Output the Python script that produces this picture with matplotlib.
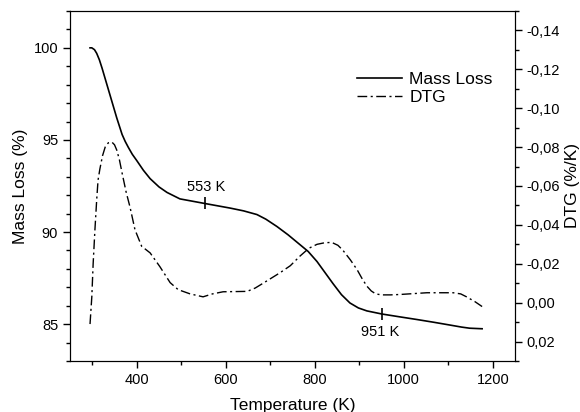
import matplotlib
matplotlib.use("Agg")
import matplotlib.pyplot as plt
from matplotlib.ticker import MultipleLocator, FuncFormatter

plt.rcParams["font.family"] = ["Liberation Sans", "DejaVu Sans"]

# Curva de pérdida de masa (TG)
temp_mass = [295, 299, 305, 310, 316, 322, 333, 344, 355, 367, 374, 381, 390,
             400, 415, 430, 450, 468, 497, 553, 610, 640, 670, 690, 715, 740,
             760, 785, 805, 823, 841, 860, 879, 898, 917, 951, 990, 1030,
             1068, 1104, 1130, 1148, 1176]
mass_loss = [100.0, 100.0, 99.9, 99.7, 99.35, 98.9, 98.0, 97.1, 96.2, 95.3,
             94.92, 94.6, 94.22, 93.88, 93.35, 92.9, 92.45, 92.15, 91.8, 91.55,
             91.3, 91.15, 90.95, 90.7, 90.3, 89.85, 89.45, 88.95, 88.4, 87.8,
             87.2, 86.6, 86.15, 85.88, 85.72, 85.55, 85.4, 85.25, 85.1, 84.95,
             84.84, 84.78, 84.75]

# Curva DTG
temp_dtg = [295, 299, 302, 306, 310, 313, 317, 323, 329, 336, 344, 350, 355,
            361, 367, 376, 385, 396, 411, 430, 452, 475, 493, 520, 549, 570,
            594, 620, 648, 666, 684, 703, 722, 745, 767, 787, 805, 822, 838,
            852, 863, 880, 895, 906, 917, 927, 937, 950, 970, 991, 1052, 1111,
            1128, 1141, 1160, 1176]
dtg = [0.011, -0.003, -0.020, -0.0375, -0.053, -0.063, -0.0686, -0.0755,
       -0.080, -0.0822, -0.0826, -0.0812, -0.0785, -0.0735, -0.0667,
       -0.057, -0.049, -0.0375, -0.029, -0.0256, -0.0185, -0.0103, -0.0067,
       -0.0045, -0.003, -0.0045, -0.0056, -0.0057, -0.0058, -0.0075, -0.010,
       -0.0127, -0.0154, -0.019, -0.024, -0.028, -0.030, -0.0308, -0.031,
       -0.0295, -0.027, -0.022, -0.017, -0.0125, -0.0085, -0.006, -0.0045,
       -0.004, -0.004, -0.0042, -0.0051, -0.0051, -0.0045, -0.003, -0.0005,
       0.002]

# Temperaturas marcadas
mark_temps = [553, 951]
mark_mass = [91.55, 85.55]
mark_labels = ["553 K", "951 K"]
label_pos = [(555, 92.45), (947, 84.6)]

fig = plt.figure(figsize=(5.8, 4.12), dpi=100)
ax = fig.add_axes([0.1207, 0.1238, 0.7673, 0.8495])
ax2 = ax.twinx()

l1, = ax.plot(temp_mass, mass_loss, color="black", lw=1.2, label="Mass Loss")
ax.plot(mark_temps, mark_mass, ls="none", marker="|", color="black",
        markersize=9, markeredgewidth=1.2)
for lab, (tx, ty) in zip(mark_labels, label_pos):
    ax.text(tx, ty, lab, ha="center", va="center", fontsize=10.5)

l2, = ax2.plot(temp_dtg, dtg, color="black", lw=1.0,
               ls=(0, (7, 2.5, 1.5, 2.5)), label="DTG")

ax.set_xlim(250, 1250)
ax.set_ylim(83, 102)
ax2.set_ylim(0.03, -0.15)

ax.xaxis.set_major_locator(MultipleLocator(200))
ax.xaxis.set_minor_locator(MultipleLocator(100))
ax.yaxis.set_major_locator(MultipleLocator(5))
ax.yaxis.set_minor_locator(MultipleLocator(1))
ax2.yaxis.set_major_locator(MultipleLocator(0.02))
ax2.yaxis.set_minor_locator(MultipleLocator(0.01))


def coma(v, pos):
    if abs(v) < 1e-9:
        v = 0.0
    return f"{v:.2f}".replace(".", ",")


ax2.yaxis.set_major_formatter(FuncFormatter(coma))

for a in (ax, ax2):
    a.tick_params(which="major", direction="out", length=5, width=1,
                  labelsize=10.5)
    a.tick_params(which="minor", direction="out", length=3, width=1)
ax.tick_params(axis="x", top=False)

ax.set_xlabel("Temperature (K)", fontsize=12.5, labelpad=8)
ax.set_ylabel("Mass Loss (%)", fontsize=12.5, labelpad=4)
ax2.set_ylabel("DTG (%/K)", fontsize=12.5, labelpad=3)

ax.legend(handles=[l1, l2], loc="upper right", bbox_to_anchor=(0.985, 0.87),
          frameon=False, fontsize=12.5, handlelength=2.6, handletextpad=0.4,
          labelspacing=0.15)

fig.savefig("out.png", dpi=100)
